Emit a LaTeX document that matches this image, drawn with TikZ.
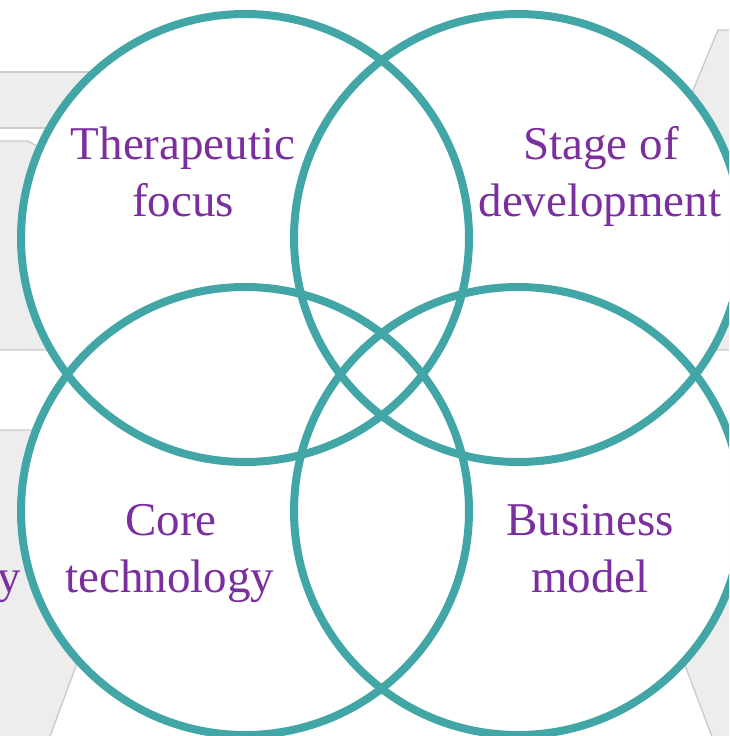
\documentclass[tikz,border=0pt]{standalone}
\usepackage{fontspec}
\setmainfont{Liberation Serif}
\definecolor{ringteal}{HTML}{42A5A6}
\definecolor{txtpurple}{HTML}{7B2F9E}
\definecolor{bggray}{HTML}{EDEDED}
\definecolor{bgline}{HTML}{CCCCCC}
\tikzset{
  bgshape/.style={fill=bggray, draw=bgline, line width=1.4pt},
  disc/.style={circle, minimum size=448pt, inner sep=0pt, fill=white},
  ring/.style={draw=ringteal, line width=8pt},
  lbl/.style={text=txtpurple, font=\fontsize{47}{56}\selectfont, anchor=base, inner sep=0pt}
}
\begin{document}
\begin{tikzpicture}[x=1pt,y=-1pt]
\useasboundingbox (0,0) rectangle (729,736);
\clip (0,0) rectangle (729,736);
% background shapes (partly hidden)
\draw[bgshape] (-10,72) -- (260,72) -- (260,128) -- (-10,128) -- cycle;
\draw[bgshape] (-10,141) -- (28,141) -- (70,165) -- (70,350) -- (-10,350) -- cycle;
\draw[bgshape] (-10,430) -- (163,430) -- (45,750) -- (-10,750) -- cycle;
\draw[bgshape] (718,30) -- (745,30) -- (745,350) -- (660,350) -- (660,170) -- cycle;
\draw[bgshape] (596,430) -- (745,430) -- (745,750) -- (717,750) -- cycle;
\node[lbl, anchor=base east] (ytail) at (21,592) {y};
% circles
\node[disc] (c1) at (245,238) {};
\node[disc] (c2) at (518,238) {};
\node[disc] (c3) at (245,511) {};
\node[disc] (c4) at (518,511) {};
\foreach \c in {c1,c2,c3,c4} \draw[ring] (\c.center) circle[radius=224pt];
% labels
\node[lbl] (t1a) at (183,159) {Therapeutic};
\node[lbl] (t1b) at (183,216) {focus};
\node[lbl] (t2a) at (601,159) {Stage of};
\node[lbl] (t2b) at (600,216) {development};
\node[lbl] (t3a) at (171,535) {Core};
\node[lbl] (t3b) at (170,592) {technology};
\node[lbl] (t4a) at (590,535) {Business};
\node[lbl] (t4b) at (590,592) {model};
\end{tikzpicture}
\end{document}
